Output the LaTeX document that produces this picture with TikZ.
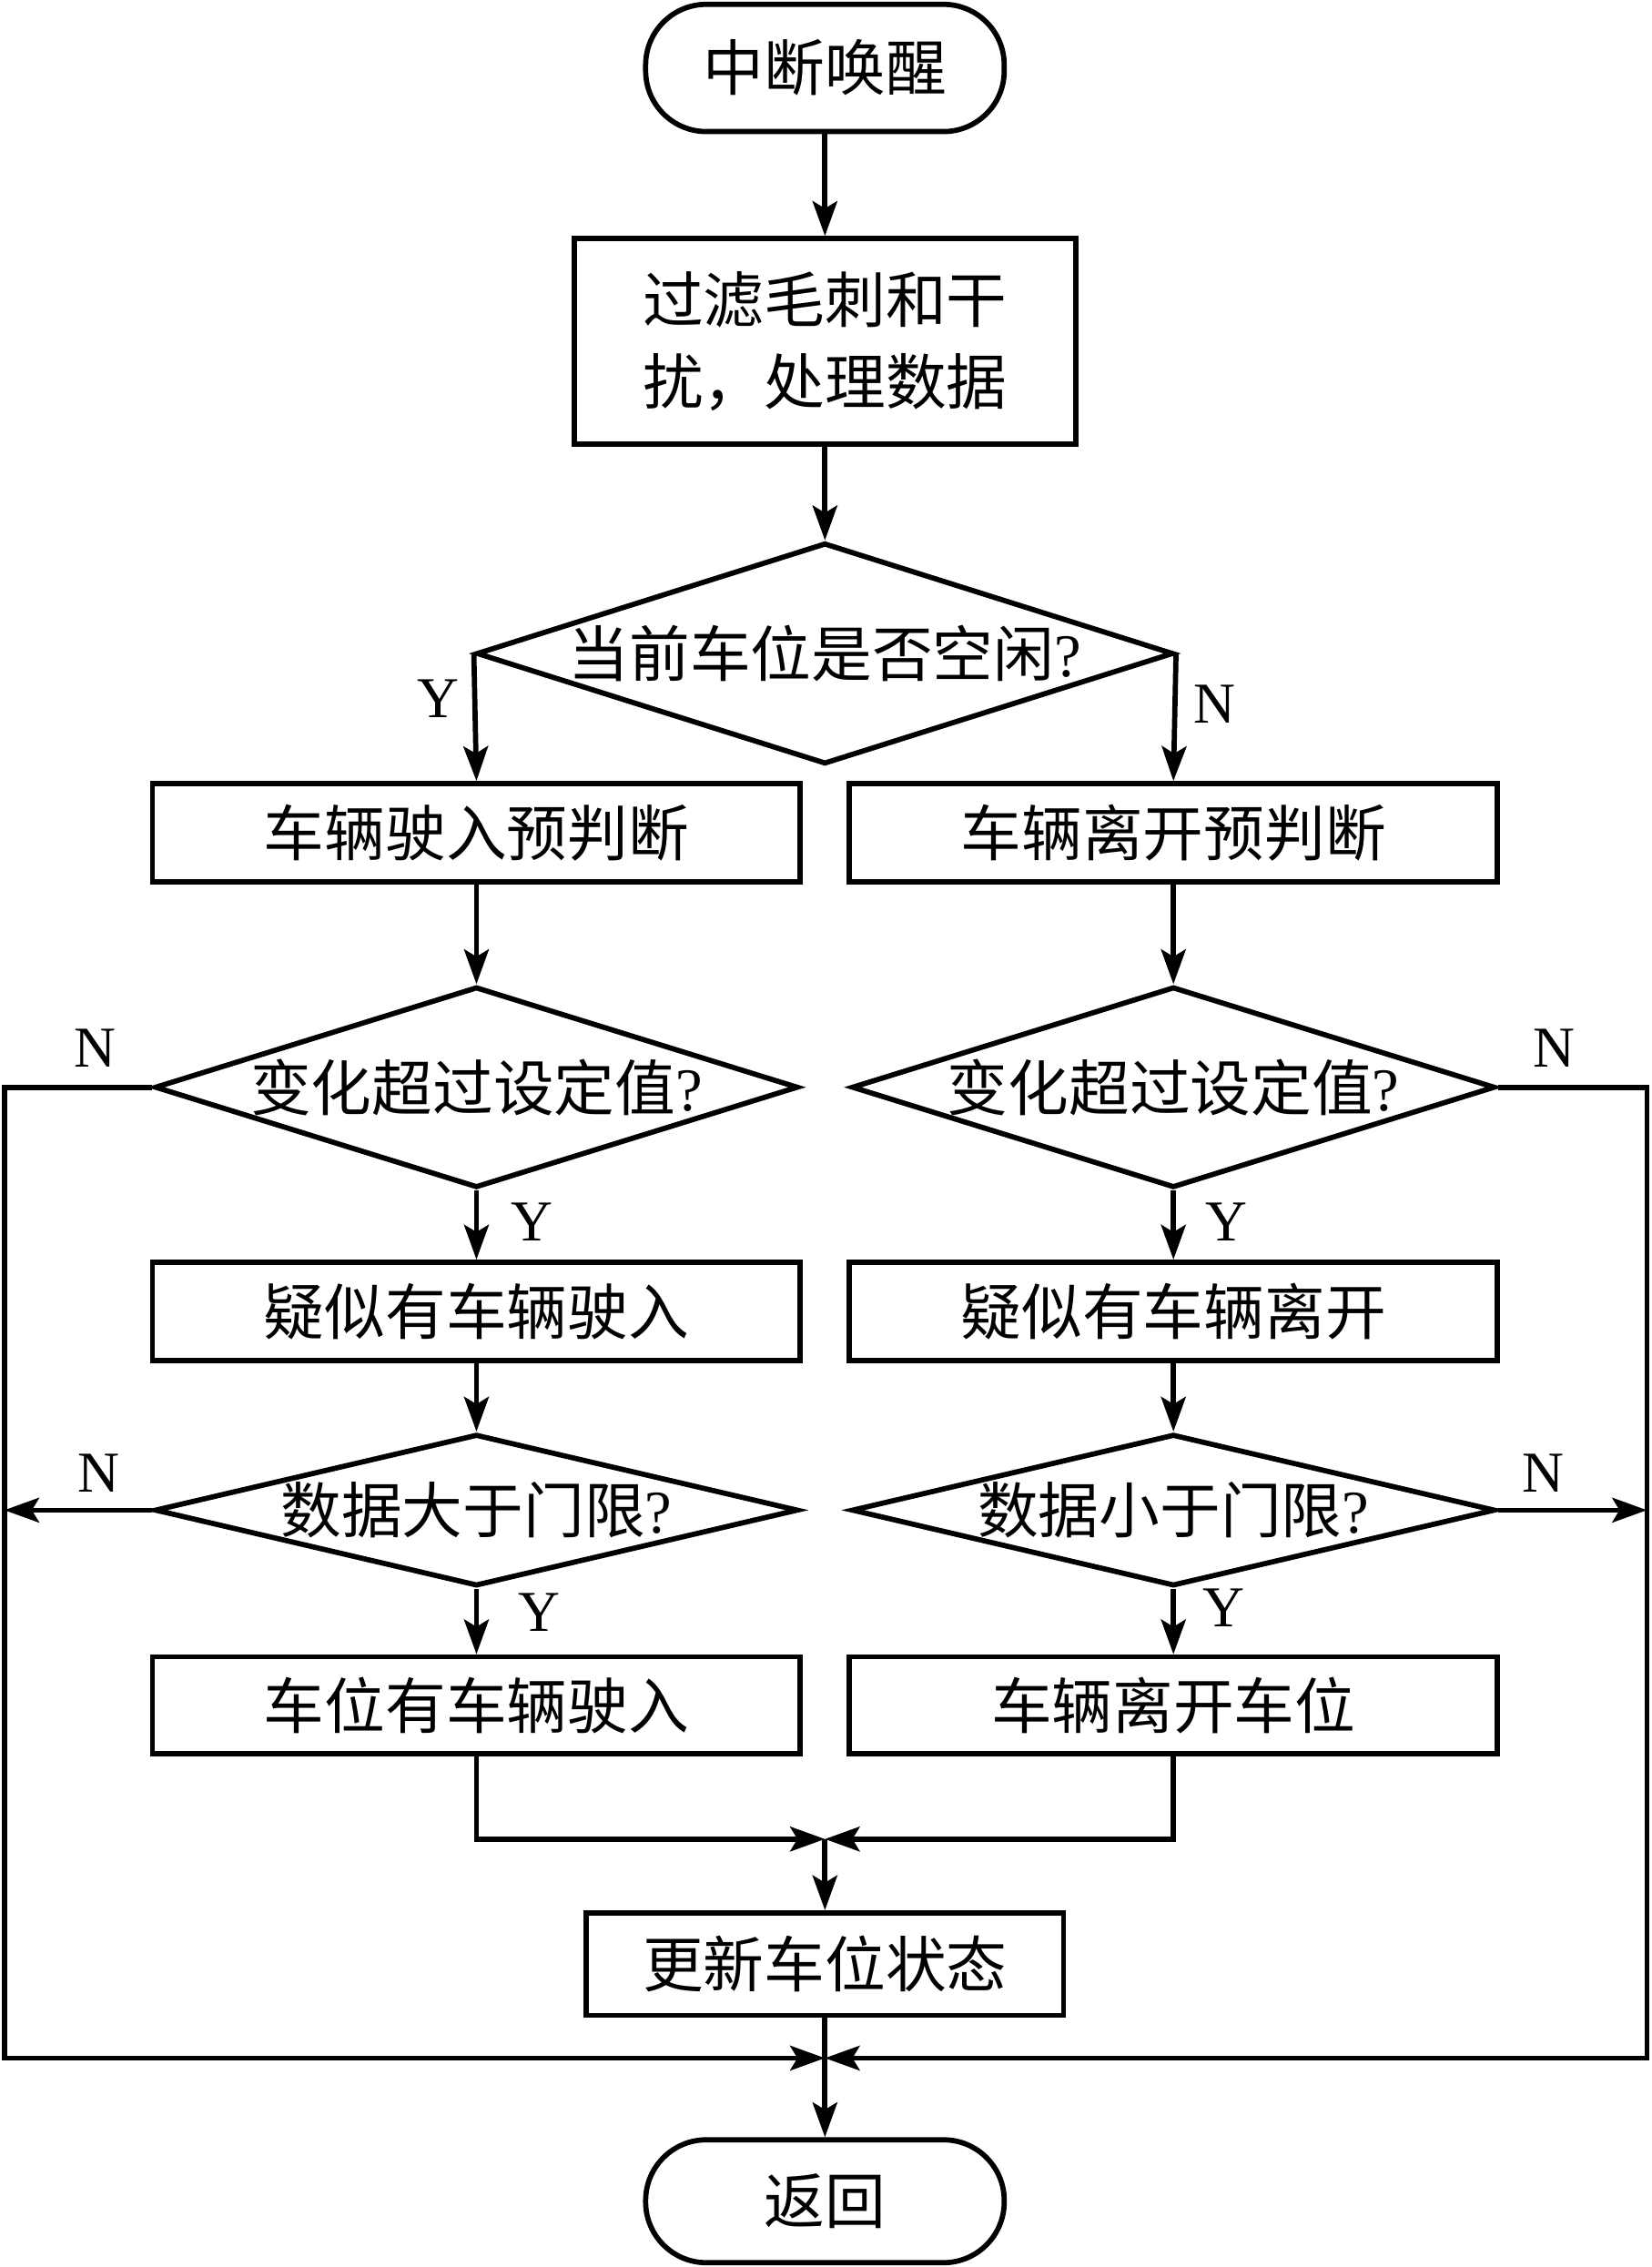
\documentclass[tikz,border=0pt]{standalone}
\usepackage{fontspec}
\setmainfont{Liberation Serif}
\newfontfamily\cjk{Noto Sans CJK SC}
\usetikzlibrary{arrows.meta,shapes.geometric}
\newcommand\qm{{\rmfamily ?}}
\begin{document}
\begin{tikzpicture}[x=0.5pt,y=-0.5pt,
  line width=1.8pt,
  arr/.style={-{Stealth[length=12pt,width=8.5pt,inset=2.5pt]}},
  txt/.style={font=\cjk\fontsize{21}{28.5}\selectfont},
  proc/.style={draw, rectangle, txt, minimum width=224pt, minimum height=34pt, inner sep=0pt, align=center},
  dec/.style={draw, diamond, txt, inner sep=0pt, minimum width=222.5pt},
  term/.style={draw, rectangle, txt, rounded corners=21pt, minimum width=124pt, minimum height=44pt, inner sep=0pt},
  yn/.style={font=\fontsize{20}{24}\selectfont, inner sep=0pt}]
\useasboundingbox (0,0) rectangle (1142,1568);

\node[term] (start) at (570.5,47) {中断唤醒};
\node[proc, minimum width=173.5pt, minimum height=71pt] (b1) at (570.5,236) {过滤毛刺和干\\扰，处理数据};
\node[dec, minimum width=241pt, minimum height=76.5pt] (d1) at (570.5,452) {\makebox[0pt]{当前车位是否空闲\qm}};

\node[proc] (b2L) at (329.5,576) {车辆驶入预判断};
\node[proc] (b2R) at (811.5,576) {车辆离开预判断};

\node[dec, minimum height=69.5pt] (d2L) at (329.5,752) {\makebox[0pt]{变化超过设定值\qm}};
\node[dec, minimum height=69.5pt] (d2R) at (811.5,752) {\makebox[0pt]{变化超过设定值\qm}};

\node[proc] (b3L) at (329.5,907) {疑似有车辆驶入};
\node[proc] (b3R) at (811.5,907) {疑似有车辆离开};

\node[dec, minimum height=52.5pt] (d3L) at (329.5,1044.5) {\makebox[0pt]{数据大于门限\qm}};
\node[dec, minimum height=52.5pt] (d3R) at (811.5,1044.5) {\makebox[0pt]{数据小于门限\qm}};

\node[proc, minimum height=33.5pt] (b4L) at (329.5,1179.5) {车位有车辆驶入};
\node[proc, minimum height=33.5pt] (b4R) at (811.5,1179.5) {车辆离开车位};

\node[proc, minimum width=165pt, minimum height=35.5pt] (b5) at (570.5,1358.5) {更新车位状态};
\node[term, minimum height=42.5pt] (end) at (570.5,1522.5) {返回};

\coordinate (jA) at (570.5,1272);
\coordinate (jB) at (570.5,1423.5);
\coordinate (lTop) at (3,752);
\coordinate (rTop) at (1139,752);

% labels
\node[yn] (y1) at (303,483) {Y};
\node[yn] (n1) at (840,487) {N};
\node[yn] (n2L) at (66,725) {N};
\node[yn] (n2R) at (1075,725) {N};
\node[yn] (y2L) at (368,845) {Y};
\node[yn] (y2R) at (848,845) {Y};
\node[yn] (n3L) at (68,1019) {N};
\node[yn] (n3R) at (1067,1019) {N};
\node[yn] (y3L) at (373,1115) {Y};
\node[yn] (y3R) at (846,1112) {Y};

% connectors
\draw[arr] (start) -- (b1);
\draw[arr] (b1) -- (d1);
\draw[arr] (d1.west) -- (b2L.north);
\draw[arr] (d1.east) -- (b2R.north);
\draw[arr] (b2L) -- (d2L);
\draw[arr] (b2R) -- (d2R);
\draw[arr] (d2L) -- (b3L);
\draw[arr] (d2R) -- (b3R);
\draw[arr] (b3L) -- (d3L);
\draw[arr] (b3R) -- (d3R);
\draw[arr] (d3L) -- (b4L);
\draw[arr] (d3R) -- (b4R);
\draw[arr] (d2L.west) -- (lTop) |- (jB);
\draw[arr] (d2R.east) -- (rTop) |- (jB);
\draw[arr] (d3L.west) -- (lTop |- d3L.west);
\draw[arr] (d3R.east) -- (rTop |- d3R.east);
\draw[arr] (b4L.south) |- (jA);
\draw[arr] (b4R.south) |- (jA);
\draw[arr] (jA) -- (b5.north);
\draw[arr] (b5.south) -- (end.north);
\end{tikzpicture}
\end{document}
